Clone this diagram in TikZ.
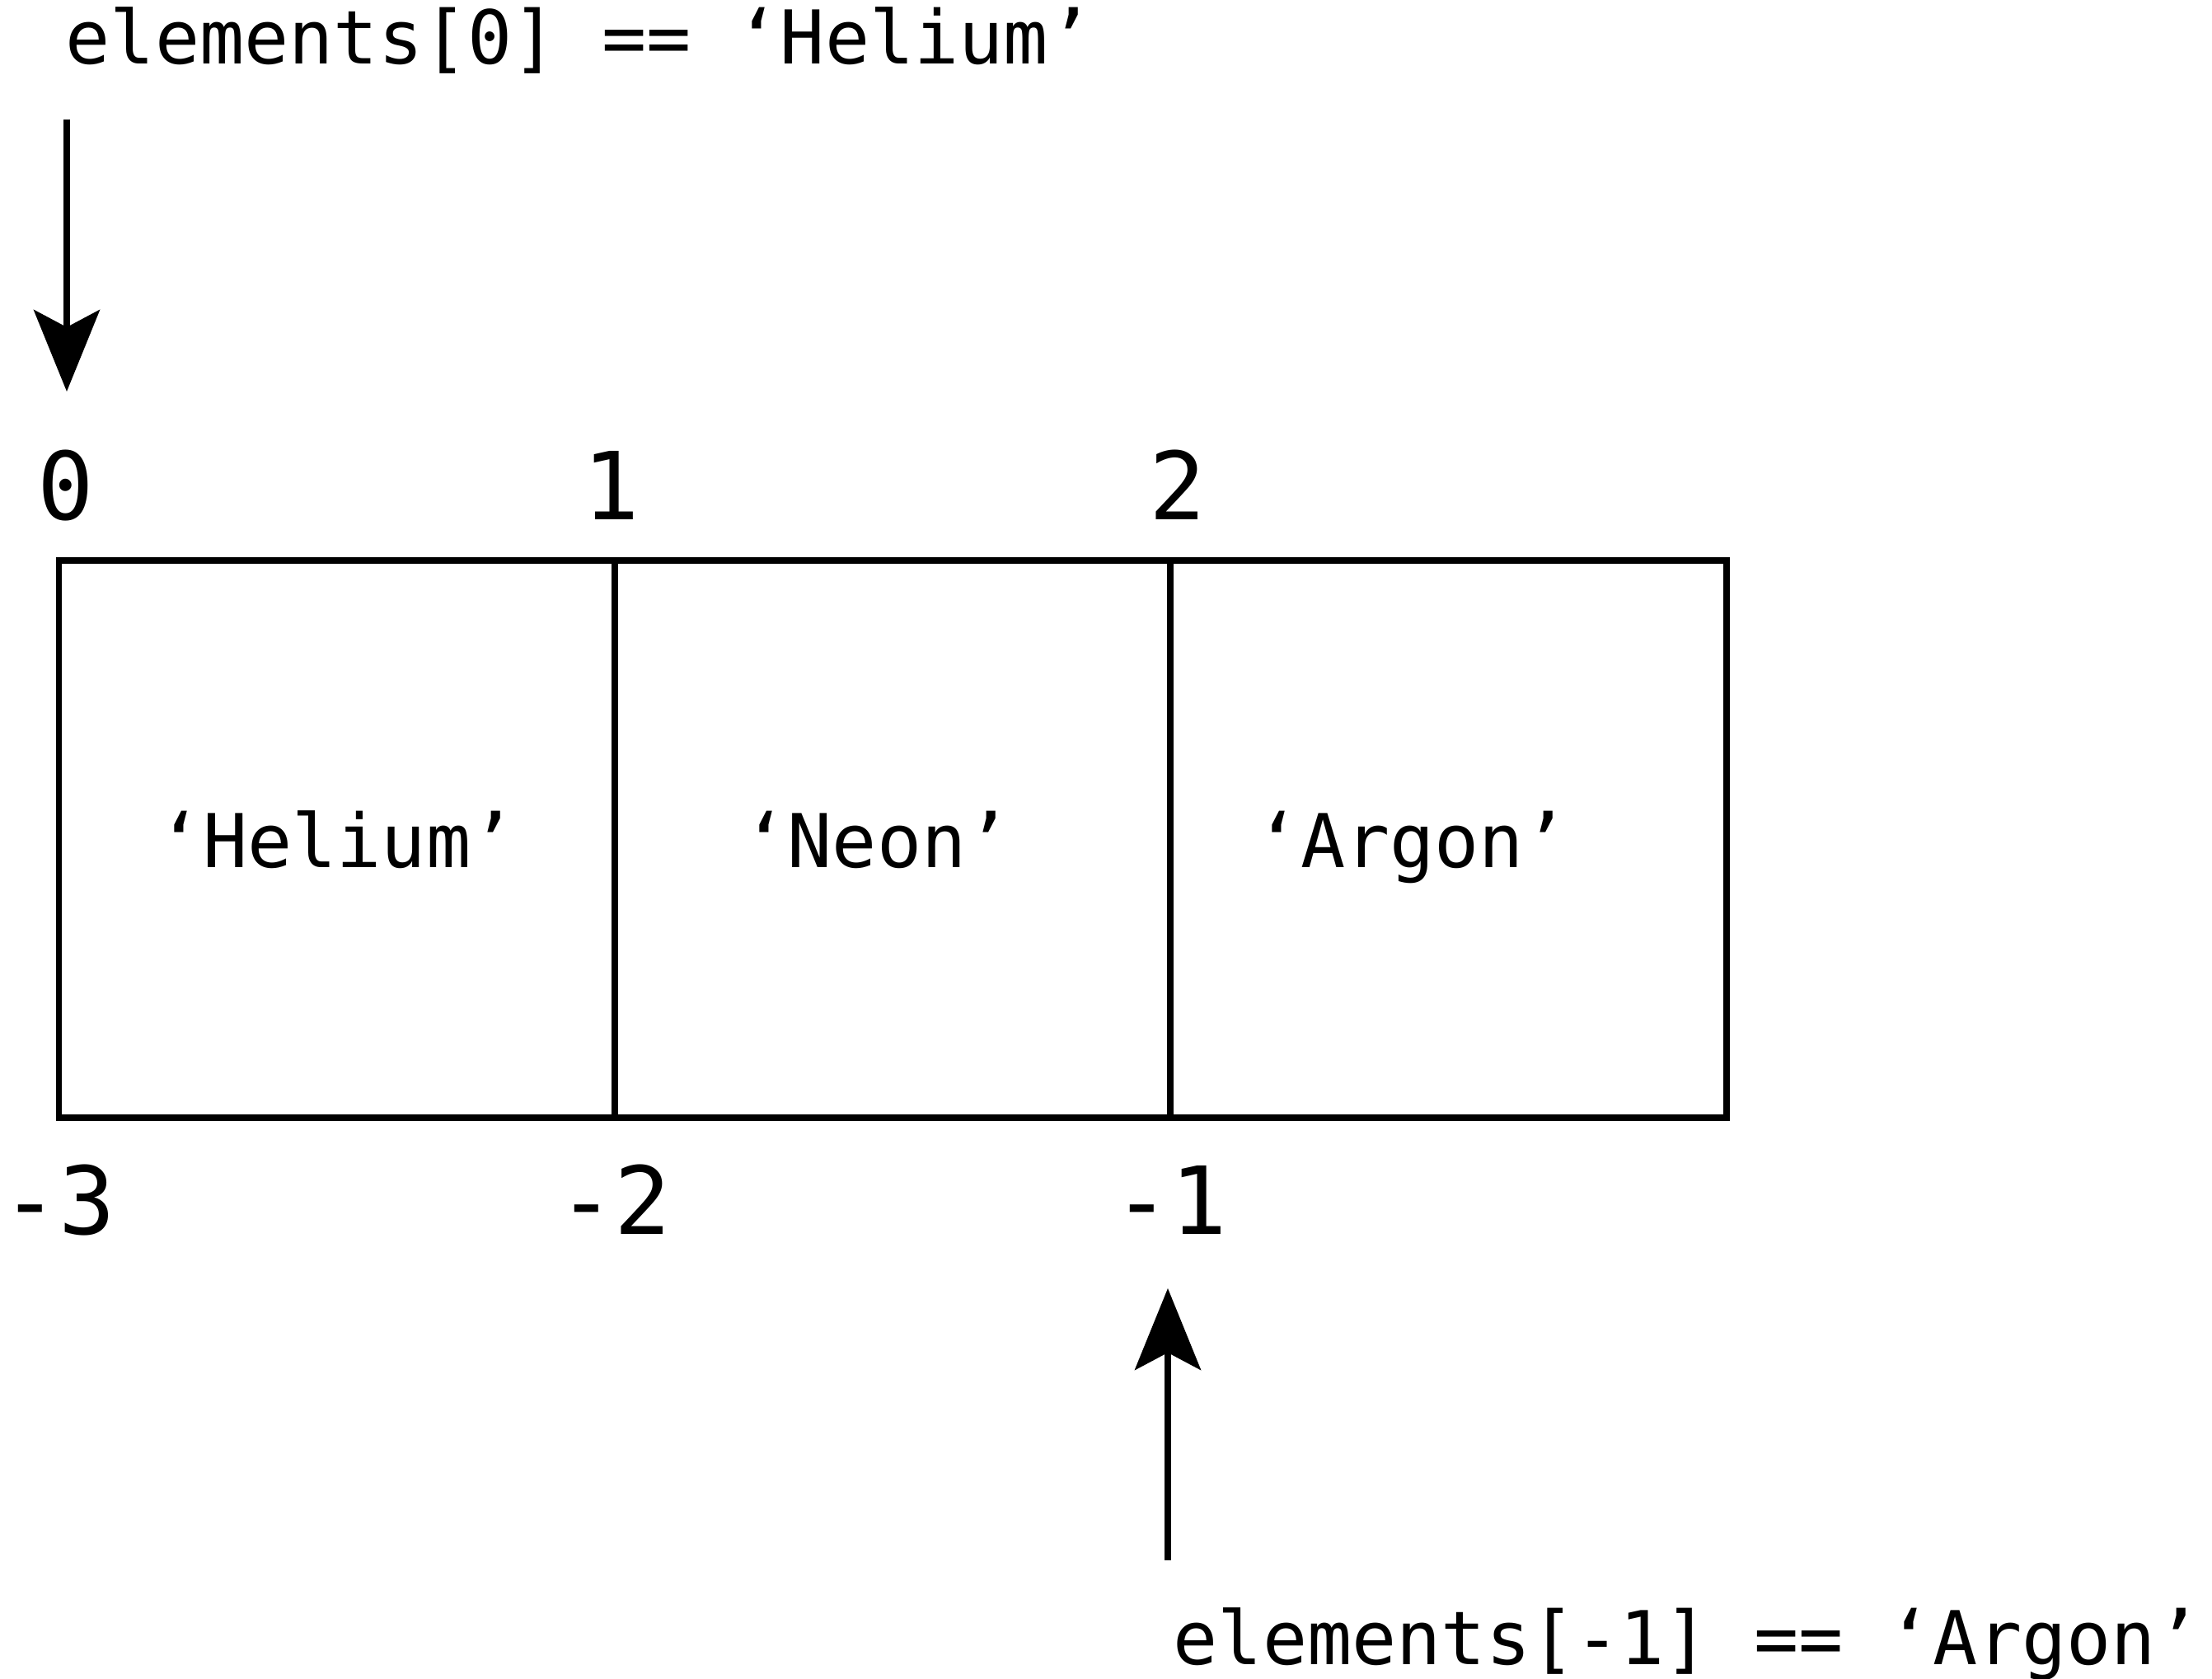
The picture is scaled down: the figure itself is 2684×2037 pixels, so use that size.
\documentclass[tikz,border=0pt]{standalone}
\usepackage{fontspec}
\setmonofont{DejaVu Sans Mono}
\usetikzlibrary{positioning,arrows.meta}

\tikzset{
	cell/.style = {draw, line width=2.2pt, minimum width=6.74cm, minimum height=6.76cm, inner sep=0pt, outer sep=0pt},
	val/.style = {font=\ttfamily\fontsize{25.6pt}{30pt}\selectfont, inner sep=0pt, anchor=base},
	idx/.style = {font=\ttfamily\fontsize{32.4pt}{38pt}\selectfont, inner sep=0pt, anchor=base},
	ptr/.style = {line width=2pt, -{Stealth[length=.99cm, width=.8cm, inset=.21cm]}}
}

\begin{document}
\begin{tikzpicture}[x = .01cm, y = -.01cm]
	\useasboundingbox (0,0) rectangle (2684,2037);
	% the list
	\node[cell] (cell0) at (408.75,1018) {};
	\node[cell, right=0pt of cell0] (cell1) {};
	\node[cell, right=0pt of cell1] (cell2) {};
	\node[val, yshift=-.34cm] (helium) at (cell0.center) {‘Helium’};
	\node[val, xshift=-.19cm, yshift=-.34cm] (neon) at (cell1.center) {‘Neon’};
	\node[val, xshift=-.44cm, yshift=-.34cm] (argon) at (cell2.center) {‘Argon’};
	% indices
	\node[idx, xshift=.08cm, yshift=.49cm] (pos0) at (cell0.north west) {0};
	\node[idx, xshift=-.04cm, yshift=.49cm] (pos1) at (cell1.north west) {1};
	\node[idx, xshift=.08cm, yshift=.49cm] (pos2) at (cell2.north west) {2};
	\node[idx, yshift=-1.41cm] (neg3) at (cell0.south west) {-3};
	\node[idx, yshift=-1.41cm] (neg2) at (cell1.south west) {-2};
	\node[idx, yshift=-1.41cm] (neg1) at (cell2.south west) {-1};
	% lookups
	\node[val, anchor=base west] (first) at (79,78) {elements[0] == ‘Helium’};
	\node[val, anchor=base west] (last) at (1423,2019) {elements[-1] == ‘Argon’};
	\coordinate (from0) at (81,145);
	\coordinate (tip0) at (81,475);
	\coordinate (from2) at (1417,1893);
	\coordinate (tip2) at (1417,1563);
	\draw[ptr] (from0) -- (tip0);
	\draw[ptr] (from2) -- (tip2);
\end{tikzpicture}
\end{document}
